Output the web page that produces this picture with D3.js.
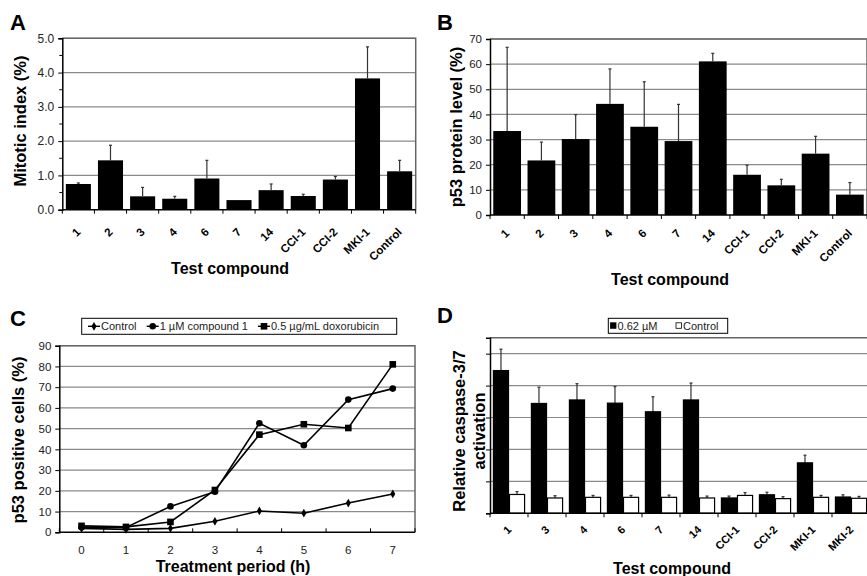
<!DOCTYPE html>
<html>
<head>
<meta charset="utf-8">
<script src="https://cdn.jsdelivr.net/npm/d3@7"></script>
<style>
    body { margin: 0; background: #fff; }
    svg { display: block; font-family: Arial, "Liberation Sans", sans-serif; }
</style>
</head>
<body>
<div id="chart"></div>
<script>
// panel A / B categories
const compoundsAB = ['1', '2', '3', '4', '6', '7', '14', 'CCI-1', 'CCI-2', 'MKI-1', 'Control'];
// A: mitotic index (%) and upper error
const mitoticIndex = [0.75, 1.44, 0.39, 0.32, 0.91, 0.28, 0.57, 0.40, 0.88, 3.83, 1.12];
const mitoticErr = [0.03, 0.44, 0.26, 0.07, 0.53, 0, 0.18, 0.05, 0.09, 0.92, 0.32];
// B: p53 protein level (%)
const p53Level = [33.4, 21.7, 30.2, 44.2, 35.1, 29.4, 61.1, 16.0, 11.8, 24.4, 8.1];
const p53Err = [33.3, 7.3, 9.7, 13.9, 17.9, 14.6, 3.2, 3.8, 2.4, 6.9, 4.8];
// C: p53 positive cells over time
const hours = [0, 1, 2, 3, 4, 5, 6, 7];
const cControl = [1.9, 1.4, 1.9, 5.3, 10.3, 9.2, 14.1, 18.5];
const cCompound1 = [2.4, 2.3, 12.5, 19.6, 52.6, 42.0, 64.0, 69.3];
const cDoxorubicin = [3.1, 2.6, 5.0, 20.4, 47.1, 52.1, 50.3, 81.0];
const seriesC = ['Control', '1 µM compound 1', '0.5 µg/mL doxorubicin'];
// D: caspase-3/7 activation
const compoundsD = ['1', '3', '4', '6', '7', '14', 'CCI-1', 'CCI-2', 'MKI-1', 'MKI-2'];
const caspTreated = [4.47, 3.44, 3.55, 3.45, 3.18, 3.55, 0.48, 0.58, 1.58, 0.51];
const caspTreatedErr = [0.67, 0.51, 0.51, 0.52, 0.47, 0.53, 0.06, 0.08, 0.24, 0.07];
const caspControl = [0.59, 0.48, 0.50, 0.50, 0.50, 0.48, 0.56, 0.46, 0.50, 0.47];
const caspControlErr = [0.09, 0.07, 0.06, 0.06, 0.07, 0.06, 0.09, 0.06, 0.06, 0.06];
const seriesD = ['0.62 µM', 'Control'];

const svg = d3.select('#chart').append('svg')
    .attr('width', 867)
    .attr('height', 576);

const gridColor = '#8a8a8a';
const frameColor = '#666';

// frame, gridlines and y ticks for one plot area
function drawFrame(x0, x1, y, ticks, opts) {
    const [y0, y1] = y.range();
    ticks.forEach(t => {
        svg.append('line')
            .attr('x1', x0).attr('x2', x1)
            .attr('y1', y(t)).attr('y2', y(t))
            .style('stroke', gridColor).style('stroke-width', 1.2);
    });
    // top & right border
    svg.append('path')
        .attr('d', `M${x0},${y1}H${x1}V${y0}`)
        .style('fill', 'none').style('stroke', frameColor).style('stroke-width', 1.5);
    // y axis
    const axis = d3.axisLeft(y).tickValues(ticks.concat([0]))
        .tickSize(4).tickFormat(opts.labels ? opts.format : () => '');
    const g = svg.append('g').attr('transform', `translate(${x0},0)`).call(axis);
    g.select('.domain').style('stroke', '#000').style('stroke-width', 1.5);
    g.selectAll('.tick line').style('stroke', '#000');
    g.selectAll('.tick text').style('font-size', (opts.fontSize || 11) + 'px').style('fill', '#222').attr('dx', -1);
    if (opts.minor) {
        opts.minor.forEach(t => {
            svg.append('line')
                .attr('x1', x0 - 3).attr('x2', x0)
                .attr('y1', y(t)).attr('y2', y(t))
                .style('stroke', '#000');
        });
    }
}

// category x axis with boundary ticks
function drawCatAxis(x, y0, cats, tickUp) {
    const step = x.step();
    const [xa, xb] = x.range();
    svg.append('line')
        .attr('x1', xa).attr('x2', xb).attr('y1', y0).attr('y2', y0)
        .style('stroke', '#000').style('stroke-width', 1.5);
    d3.range(cats.length + 1).forEach(i => {
        const xt = xa + i * step;
        svg.append('line')
            .attr('x1', xt).attr('x2', xt)
            .attr('y1', y0).attr('y2', tickUp ? y0 - 4 : y0 + 4)
            .style('stroke', '#000');
    });
}

// -45 degree bold category labels
function rotatedLabels(x, y0, cats, dy, size) {
    svg.append('g').selectAll('text')
        .data(cats)
        .enter()
        .append('text')
        .attr('transform', d => `translate(${x(d) + x.bandwidth() / 2 + 3},${y0 + dy}) rotate(-45)`)
        .attr('text-anchor', 'end')
        .style('font-size', size + 'px')
        .style('font-weight', 'bold')
        .text(d => d);
}

function errBars(xc, yTop, yVal) {
    svg.append('line')
        .attr('x1', xc).attr('x2', xc).attr('y1', yVal).attr('y2', yTop)
        .style('stroke', '#333').style('stroke-width', 1.2);
    svg.append('line')
        .attr('x1', xc - 1.5).attr('x2', xc + 1.5).attr('y1', yTop).attr('y2', yTop)
        .style('stroke', '#333').style('stroke-width', 1.2);
}

function bold(x, y, txt, size, rot) {
    return svg.append('text')
        .attr('transform', `translate(${x},${y})` + (rot ? ` rotate(${rot})` : ''))
        .attr('text-anchor', 'middle')
        .style('font-size', size + 'px')
        .style('font-weight', 'bold')
        .text(txt);
}

const titleSize = 16;
const yTitleSize = 16.5;

// ---------- Panel A ----------
{
    const x = d3.scaleBand().domain(compoundsAB).range([62.3, 415.7]).paddingInner(0.22).paddingOuter(0.11);
    const y = d3.scaleLinear().domain([0, 5]).range([209.7, 38.3]);
    drawFrame(62.3, 415.7, y, [1, 2, 3, 4, 5], { labels: true, format: d3.format('.1f'), fontSize: 12, minor: [0.5, 1.5, 2.5, 3.5, 4.5] });
    svg.append('g').selectAll('rect')
        .data(compoundsAB)
        .enter()
        .append('rect')
        .attr('x', d => x(d))
        .attr('y', (d, i) => y(mitoticIndex[i]))
        .attr('width', x.bandwidth())
        .attr('height', (d, i) => y(0) - y(mitoticIndex[i]))
        .style('fill', '#000');
    compoundsAB.forEach((d, i) => {
        if (mitoticErr[i] > 0) errBars(x(d) + x.bandwidth() / 2, y(mitoticIndex[i] + mitoticErr[i]), y(mitoticIndex[i]));
    });
    drawCatAxis(x, y(0), compoundsAB, false);
    rotatedLabels(x, y(0), compoundsAB, 23, 11.5);
    bold(230, 274, 'Test compound', titleSize);
    bold(26, 121, 'Mitotic index (%)', yTitleSize, -90);
    svg.append('text').attr('x', 10).attr('y', 30).style('font-size', '22px').style('font-weight', 'bold').text('A');
}

// ---------- Panel B ----------
{
    const x = d3.scaleBand().domain(compoundsAB).range([490, 867]).paddingInner(0.19).paddingOuter(0.095);
    const y = d3.scaleLinear().domain([0, 70]).range([215, 39]);
    drawFrame(490, 867, y, [10, 20, 30, 40, 50, 60, 70], { labels: true, format: d3.format('d'), fontSize: 11.5 });
    svg.append('g').selectAll('rect')
        .data(compoundsAB)
        .enter()
        .append('rect')
        .attr('x', d => x(d))
        .attr('y', (d, i) => y(p53Level[i]))
        .attr('width', x.bandwidth())
        .attr('height', (d, i) => y(0) - y(p53Level[i]))
        .style('fill', '#000');
    compoundsAB.forEach((d, i) => {
        errBars(x(d) + x.bandwidth() / 2, y(p53Level[i] + p53Err[i]), y(p53Level[i]));
    });
    drawCatAxis(x, y(0), compoundsAB, false);
    rotatedLabels(x, y(0), compoundsAB, 19, 11.5);
    bold(670, 285, 'Test compound', titleSize);
    bold(462, 127, 'p53 protein level (%)', yTitleSize, -90);
    svg.append('text').attr('x', 437).attr('y', 30).style('font-size', '22px').style('font-weight', 'bold').text('B');
}

// ---------- Panel C ----------
{
    const x = d3.scaleBand().domain(hours).range([59.3, 415]);
    const y = d3.scaleLinear().domain([0, 90]).range([532.3, 345.7]);
    drawFrame(59.3, 415, y, d3.range(10, 91, 10), { labels: true, format: d3.format('d'), fontSize: 11.5 });
    drawCatAxis(x, y(0), hours, true);
    svg.append('g').selectAll('text')
        .data(hours)
        .enter()
        .append('text')
        .attr('x', d => x(d) + x.bandwidth() / 2)
        .attr('y', 554)
        .attr('text-anchor', 'middle')
        .style('font-size', '11.5px')
        .style('fill', '#222')
        .text(d => d);

    const cx = d => x(d) + x.bandwidth() / 2;
    const line = d3.line().x((d, i) => cx(hours[i])).y(d => y(d));
    const allSeries = [cControl, cCompound1, cDoxorubicin];
    const markers = [d3.symbolDiamond, d3.symbolCircle, d3.symbolSquare];
    const markerSize = [22, 34, 44];
    allSeries.forEach((vals, s) => {
        svg.append('path')
            .attr('d', line(vals))
            .style('fill', 'none').style('stroke', '#000').style('stroke-width', 1.6);
        svg.append('g').selectAll('path')
            .data(vals)
            .enter()
            .append('path')
            .attr('transform', (d, i) => `translate(${cx(hours[i])},${y(d)})`)
            .attr('d', d3.symbol().type(markers[s]).size(markerSize[s]))
            .style('fill', '#000');
    });

    // legend
    svg.append('rect').attr('x', 81.7).attr('y', 318.3).attr('width', 315).attr('height', 16)
        .style('fill', '#fff').style('stroke', '#000').style('stroke-width', 1);
    const legX = [88, 146.7, 258];
    seriesC.forEach((name, s) => {
        svg.append('line').attr('x1', legX[s]).attr('x2', legX[s] + 12).attr('y1', 326.3).attr('y2', 326.3)
            .style('stroke', '#000').style('stroke-width', 1.4);
        svg.append('path')
            .attr('transform', `translate(${legX[s] + 6},326.3)`)
            .attr('d', d3.symbol().type(markers[s]).size(markerSize[s]))
            .style('fill', '#000');
        svg.append('text').attr('x', legX[s] + 13).attr('y', 330.3)
            .style('font-size', '11px').style('fill', '#222').text(name);
    });

    bold(233, 572, 'Treatment period (h)', titleSize);
    bold(24, 440, 'p53 positive cells (%)', yTitleSize, -90);
    svg.append('text').attr('x', 10).attr('y', 326).style('font-size', '22px').style('font-weight', 'bold').text('C');
}

// ---------- Panel D ----------
{
    const x = d3.scaleBand().domain(compoundsD).range([490, 870]).paddingInner(0.18).paddingOuter(0.09);
    const xs = d3.scaleBand().domain([0, 1]).range([0, x.bandwidth()]).paddingInner(0.06);
    const y = d3.scaleLinear().domain([0, 5.5]).range([513.3, 337.7]);
    drawFrame(490, 870, y, [1, 2, 3, 4, 5], { labels: false });
    const groups = [[caspTreated, caspTreatedErr, '#000'], [caspControl, caspControlErr, '#fff']];
    groups.forEach(([vals, errs, fill], s) => {
        compoundsD.forEach((d, i) => {
            const bx = x(d) + xs(s);
            errBars(bx + xs.bandwidth() / 2, y(vals[i] + errs[i]), y(vals[i]));
            svg.append('rect')
                .attr('x', bx).attr('y', y(vals[i]))
                .attr('width', xs.bandwidth()).attr('height', y(0) - y(vals[i]))
                .style('fill', fill).style('stroke', '#000').style('stroke-width', 1.2);
        });
    });
    drawCatAxis(x, y(0), compoundsD, false);
    rotatedLabels(x, y(0), compoundsD, 17, 11);

    // legend
    svg.append('rect').attr('x', 608.3).attr('y', 318.3).attr('width', 119.4).attr('height', 15)
        .style('fill', '#fff').style('stroke', '#000').style('stroke-width', 1);
    const legX = [610.5, 676];
    seriesD.forEach((name, s) => {
        svg.append('rect').attr('x', legX[s]).attr('y', 322.8).attr('width', 5.5).attr('height', 5.5)
            .style('fill', s === 0 ? '#000' : '#fff').style('stroke', '#000').style('stroke-width', 0.8);
        svg.append('text').attr('x', legX[s] + 7).attr('y', 330)
            .style('font-size', '11px').style('fill', '#222').text(name);
    });

    bold(672, 574, 'Test compound', titleSize);
    const yl = svg.append('text')
        .attr('transform', 'translate(470,431) rotate(-90)')
        .attr('text-anchor', 'middle')
        .style('font-size', yTitleSize + 'px')
        .style('font-weight', 'bold');
    yl.append('tspan').attr('x', 0).attr('dy', -5).text('Relative caspase-3/7');
    yl.append('tspan').attr('x', 0).attr('dy', 20).text('activation');
    svg.append('text').attr('x', 437).attr('y', 323).style('font-size', '22px').style('font-weight', 'bold').text('D');
}
</script>
</body>
</html>
